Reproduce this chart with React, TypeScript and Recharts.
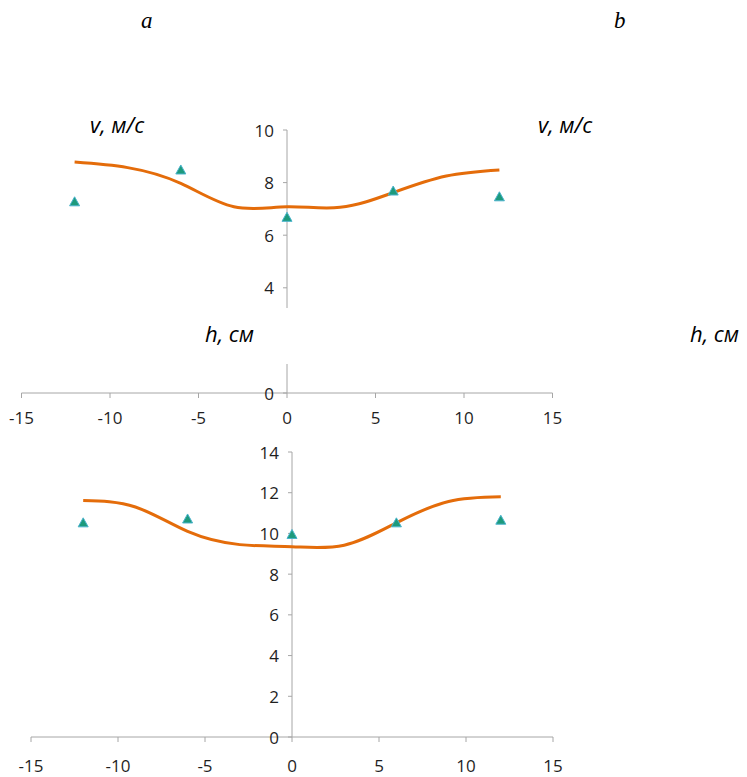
import React from 'react';
import { ComposedChart, Line, Scatter, XAxis, YAxis, ReferenceLine, ReferenceDot } from 'recharts';

// h, cm positions for the smoothed curve and for the measured points
const hCurve = [-12, -9, -6, -3, 0, 3, 6, 9, 12];
const hPoints = [-12, -6, 0, 6, 12];

// chart a: v, m/s
const vCurveA = [8.78, 8.57, 7.97, 7.08, 7.08, 7.06, 7.62, 8.25, 8.48];
const vPointsA = [7.27, 8.48, 6.68, 7.68, 7.46];

// chart b: v, m/s
const vCurveB = [11.62, 11.3, 10.1, 9.45, 9.35, 9.42, 10.52, 11.57, 11.8];
const vPointsB = [10.52, 10.71, 9.95, 10.52, 10.65];

const xTicks = [-15, -10, -5, 0, 5, 10, 15];
const yTicksA = [0, 2, 4, 6, 8, 10];
const yTicksB = [0, 2, 4, 6, 8, 10, 12, 14];

const AXIS = '#a6a6a6';
const TEXT = '#1f1f1f';
const ORANGE = '#e46c0a';
const SANS = '"Open Sans", "Liberation Sans", sans-serif';

const curveA = hCurve.map((h, i) => ({ h, v: vCurveA[i] }));
const pointsA = hPoints.map((h, i) => ({ h, v: vPointsA[i] }));
const curveB = hCurve.map((h, i) => ({ h, v: vCurveB[i] }));
const pointsB = hPoints.map((h, i) => ({ h, v: vPointsB[i] }));

const Triangle = (props: any) => {
  const { cx, cy } = props;
  if (cx == null || cy == null) return null;
  return (
    <path
      d={`M${cx},${cy - 5} L${cx + 5},${cy + 4} L${cx - 5},${cy + 4} Z`}
      fill="#1d9a7c"
      stroke="#4ab3cc"
      strokeWidth={1}
    />
  );
};

// tick mark + label for the vertical axis that sits at h = 0
const YTick = (value: number) => (props: any) => {
  const { cx, cy } = props;
  if (cx == null || cy == null) return null;
  return (
    <g>
      <line x1={cx - 4} y1={cy} x2={cx} y2={cy} stroke={AXIS} />
      <text
        x={cx - 13}
        y={cy}
        textAnchor="end"
        dominantBaseline="central"
        fill={TEXT}
        fontSize={17}
        fontFamily={SANS}
      >
        {value}
      </text>
    </g>
  );
};

function Panel({
  curve, points, yMax, yTicks, width, height, margin, tickMargin,
}: any) {
  return (
    <ComposedChart width={width} height={height} margin={margin}>
      <XAxis
        type="number"
        dataKey="h"
        domain={[-15, 15]}
        ticks={xTicks}
        stroke={AXIS}
        tickSize={5}
        tickMargin={tickMargin}
        height={40}
        tick={{ fill: TEXT, fontSize: 17, fontFamily: SANS }}
      />
      <YAxis type="number" dataKey="v" domain={[0, yMax]} hide />
      <ReferenceLine x={0} stroke={AXIS} />
      {yTicks.map((t: number) => (
        <ReferenceDot key={t} x={0} y={t} r={0} shape={YTick(t)} />
      ))}
      <Line
        data={curve}
        dataKey="v"
        type="natural"
        stroke={ORANGE}
        strokeWidth={3}
        dot={false}
        activeDot={false}
        isAnimationActive={false}
      />
      <Scatter data={points} dataKey="v" shape={Triangle} isAnimationActive={false} />
    </ComposedChart>
  );
}

const label = (text: string, left: number, top: number, extra: any = {}) => (
  <div
    style={{
      position: 'absolute', left, top, fontFamily: SANS, fontStyle: 'italic',
      fontSize: 22, lineHeight: '22px', color: '#000', whiteSpace: 'nowrap', ...extra,
    }}
  >
    {text}
  </div>
);

export default function App() {
  return (
    <div style={{ position: 'absolute', left: 0, top: 0, width: 747, height: 777, background: '#fff', overflow: 'hidden' }}>
      <div style={{ position: 'absolute', left: 0, top: 0 }}>
        <Panel
          curve={curveA}
          points={pointsA}
          yMax={10}
          yTicks={yTicksA}
          width={747}
          height={433}
          margin={{ top: 130, right: 194.5, bottom: 0, left: 21.5 }}
          tickMargin={14}
        />
      </div>
      <div style={{ position: 'absolute', left: 0, top: 420 }}>
        <Panel
          curve={curveB}
          points={pointsB}
          yMax={14}
          yTicks={yTicksB}
          width={747}
          height={357}
          margin={{ top: 32, right: 194, bottom: 0, left: 31 }}
          tickMargin={18}
        />
      </div>

      <div style={{ position: 'absolute', left: 141, top: 9, fontFamily: '"Liberation Serif", serif', fontStyle: 'italic', fontSize: 23, lineHeight: '23px' }}>a</div>
      <div style={{ position: 'absolute', left: 614, top: 9, fontFamily: '"Liberation Serif", serif', fontStyle: 'italic', fontSize: 23, lineHeight: '23px' }}>b</div>

      {label('v, м/с', 90, 113)}
      {label('v, м/с', 538, 113)}

      <div style={{ position: 'absolute', left: 198, top: 308, width: 100, height: 56, background: '#fff' }} />
      {label('h, см', 205, 322)}
      {label('h, см', 690, 322)}
    </div>
  );
}
